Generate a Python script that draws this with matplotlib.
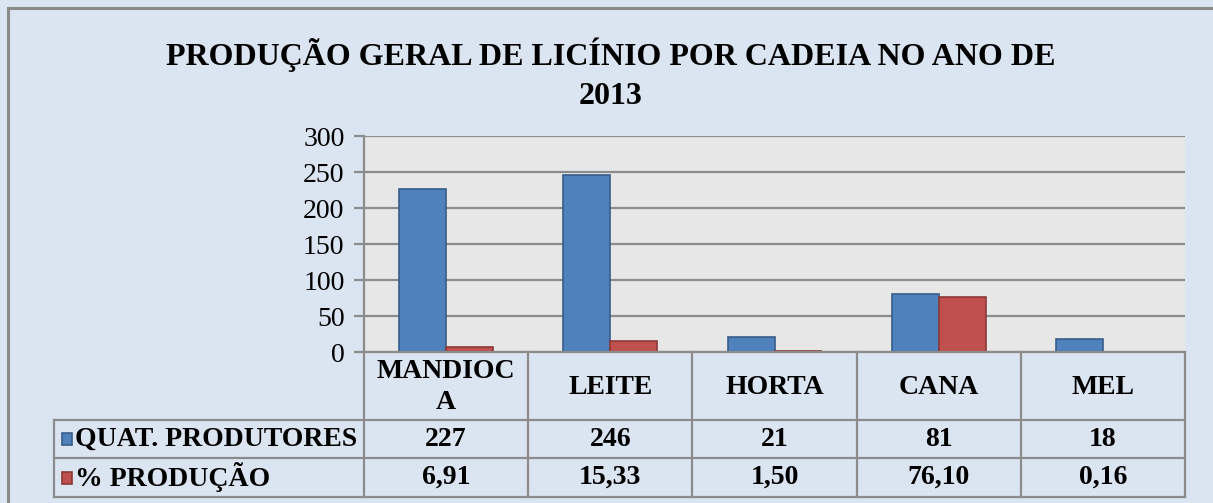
import numpy as np
import matplotlib
matplotlib.use("Agg")
import matplotlib.pyplot as plt
from matplotlib.patches import Rectangle
from matplotlib.lines import Line2D
from matplotlib.transforms import blended_transform_factory

# ---- data ----
categories = ["MANDIOC\nA", "LEITE", "HORTA", "CANA", "MEL"]
series_names = ["QUAT. PRODUTORES", "% PRODUÇÃO"]
produtores = [227, 246, 21, 81, 18]
producao = [6.91, 15.33, 1.50, 76.10, 0.16]
produtores_labels = ["227", "246", "21", "81", "18"]
producao_labels = ["6,91", "15,33", "1,50", "76,10", "0,16"]
yticks = [0, 50, 100, 150, 200, 250, 300]
title = "PRODUÇÃO GERAL DE LICÍNIO POR CADEIA NO ANO DE\n2013"

# ---- style ----
W, H = 1213, 503
BG = "#DBE5F1"
PLOT_BG = "#E7E7E7"
GRID = "#8C8C8C"
BLUE, BLUE_E = "#4F81BD", "#385D8A"
RED, RED_E = "#C0504D", "#8C3836"
SERIF = ["Liberation Serif", "DejaVu Serif"]
colors = [BLUE, RED]
edges = [BLUE_E, RED_E]

fig = plt.figure(figsize=(W / 100, H / 100), dpi=100)
fig.patch.set_facecolor(BG)


def fx(x):
    return x / W


def fy(y):
    return 1 - y / H


# outer frame
fig.patches.append(Rectangle((fx(8), fy(H + 20)), fx(W + 20), fy(8) - fy(H + 20),
                             transform=fig.transFigure, facecolor="none",
                             edgecolor="#8A8A8A", linewidth=2.2, zorder=0))

# plot area
L, R, T, B = 364, 1185, 136, 352
ax = fig.add_axes([fx(L), fy(B), fx(R - L), (B - T) / H])
ax.set_facecolor(PLOT_BG)
n = len(categories)
x = np.arange(n)
bw = 0.286
for i, vals in enumerate([produtores, producao]):
    ax.bar(x + (i - 0.5) * bw, vals, width=bw, color=colors[i],
           edgecolor=edges[i], linewidth=1.2, zorder=3)
ax.set_xlim(-0.5, n - 0.5)
ax.set_ylim(0, 300)
ax.set_yticks(yticks)
ax.set_yticklabels([str(t) for t in yticks], fontfamily=SERIF, fontsize=20)
ax.yaxis.grid(True, color=GRID, linewidth=1.6, zorder=1)
ax.set_axisbelow(True)
ax.tick_params(axis="y", length=7, width=1.6, color=GRID, pad=7)
ax.tick_params(axis="x", length=0, labelbottom=False)
for s in ["top", "right", "bottom"]:
    ax.spines[s].set_visible(False)
ax.spines["left"].set_color(GRID)
ax.spines["left"].set_linewidth(1.6)

# title
fig.text(fx(611), fy(74), title, ha="center", va="center",
         fontfamily=SERIF, fontsize=23, fontweight="bold", linespacing=1.45)

# ---- data table ----
tr = blended_transform_factory(ax.transData, fig.transFigure)
row_y = [352, 420, 458, 497]
LEG_L = 54
lc = "#8C8C8C"
lw = 1.6
# horizontal lines
fig.add_artist(Line2D([fx(357), fx(R)], [fy(row_y[0])] * 2, transform=fig.transFigure,
                      color=lc, linewidth=lw))
for yy in row_y[1:]:
    fig.add_artist(Line2D([fx(LEG_L), fx(R)], [fy(yy)] * 2, transform=fig.transFigure,
                          color=lc, linewidth=lw))
# vertical lines
fig.add_artist(Line2D([fx(LEG_L)] * 2, [fy(row_y[1]), fy(row_y[3])],
                      transform=fig.transFigure, color=lc, linewidth=lw))
for b in np.arange(n + 1) - 0.5:
    fig.add_artist(Line2D([b, b], [fy(row_y[0]), fy(row_y[3])], transform=tr,
                          color=lc, linewidth=lw))

FS = 20
tkw = dict(fontfamily=SERIF, fontsize=FS, fontweight="bold", ha="center", va="center")
for i, c in enumerate(categories):
    fig.text(x[i], fy((row_y[0] + row_y[1]) / 2 + 1), c, transform=tr, linespacing=1.35, **tkw)
for r, labels in enumerate([produtores_labels, producao_labels]):
    yc = fy((row_y[r + 1] + row_y[r + 2]) / 2)
    for i, lab in enumerate(labels):
        fig.text(x[i], yc, lab, transform=tr, **tkw)
    # legend key + name
    fig.patches.append(Rectangle((fx(62), yc - 6 / H), fx(10), 12 / H,
                                 transform=fig.transFigure, facecolor=colors[r],
                                 edgecolor=edges[r], linewidth=1.2))
    fig.text(fx(75), yc, series_names[r], fontfamily=SERIF, fontsize=FS,
             fontweight="bold", ha="left", va="center")

fig.savefig("out.png", dpi=100, facecolor=BG)
